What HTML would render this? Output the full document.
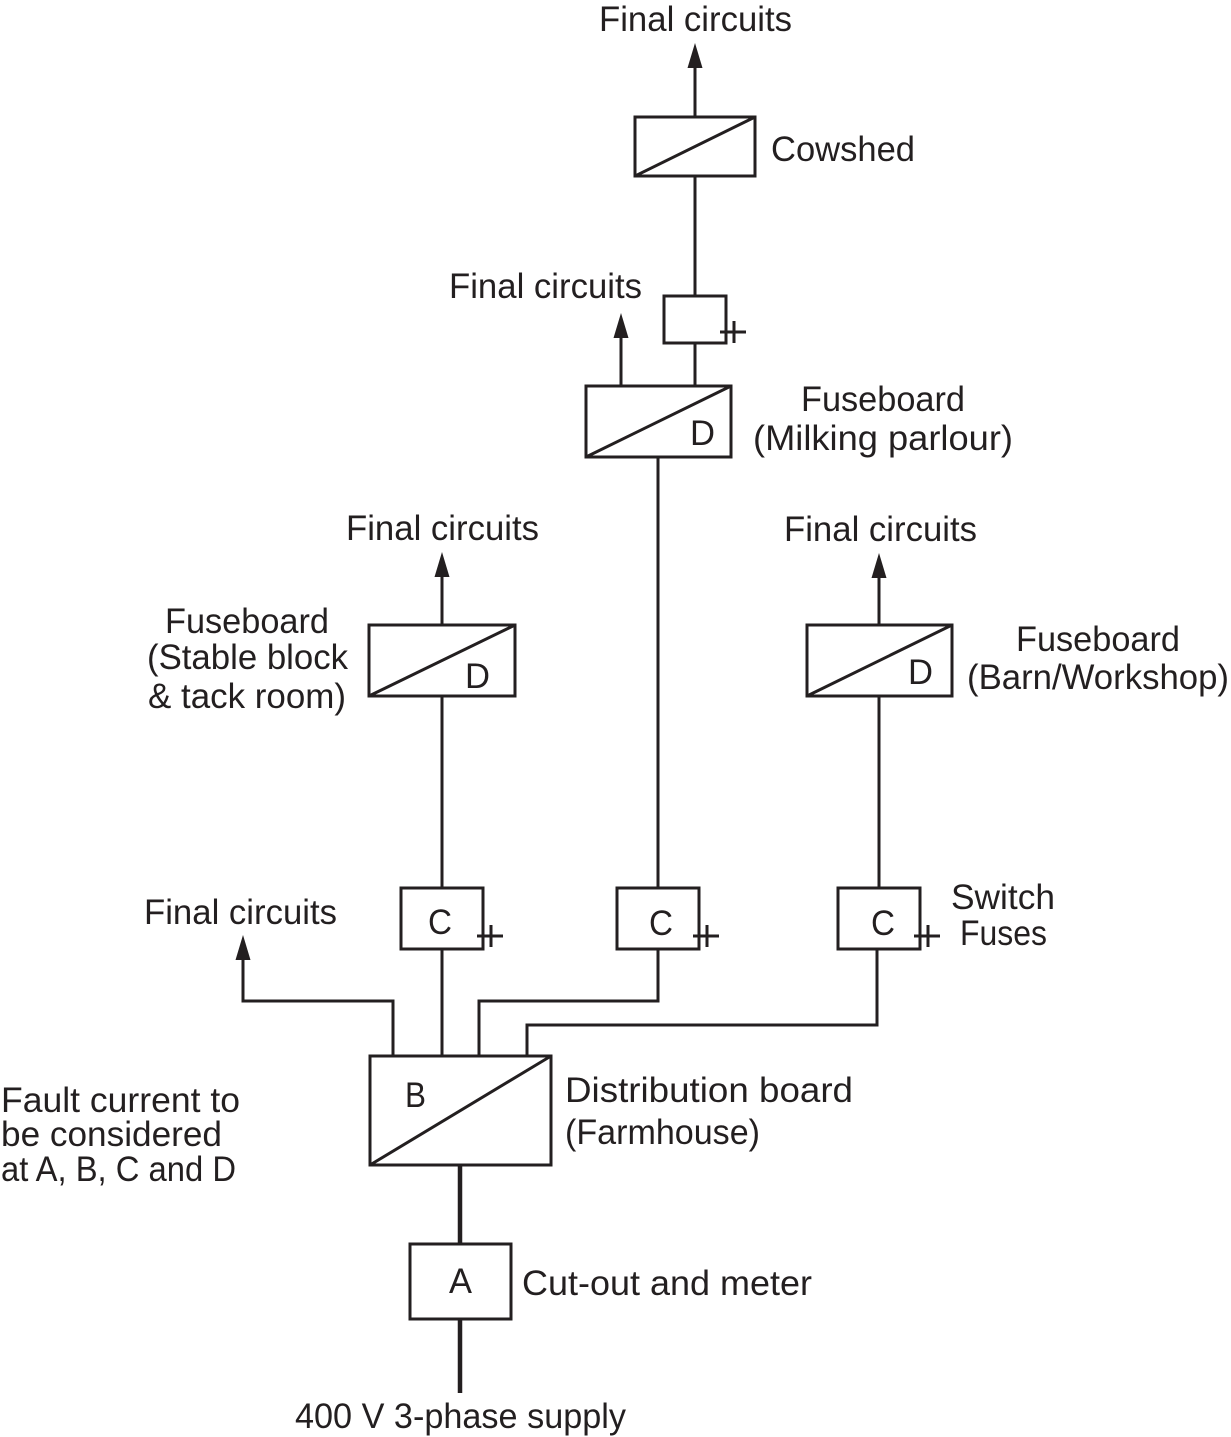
<!DOCTYPE html>
<html>
<head>
<meta charset="utf-8">
<style>
html,body{margin:0;padding:0;background:#fff;}
svg{display:block;}
text{font-family:"Liberation Sans",sans-serif;font-size:35px;fill:#231f20;}
</style>
</head>
<body>
<svg width="1231" height="1437" viewBox="0 0 1231 1437" xmlns="http://www.w3.org/2000/svg">
<g fill="none" stroke="#231f20" stroke-width="3">
<!-- Cowshed -->
<rect x="635" y="117" width="120" height="59"/>
<line x1="635" y1="176" x2="755" y2="117"/>
<line x1="695" y1="60" x2="695" y2="117"/>
<line x1="695" y1="176" x2="695" y2="296"/>
<!-- small box -->
<rect x="664" y="296" width="62" height="47"/>
<line x1="695" y1="343" x2="695" y2="386"/>
<line x1="720" y1="332" x2="746" y2="332"/>
<line x1="734" y1="321" x2="734" y2="343"/>
<!-- Milking -->
<rect x="586" y="386" width="145" height="71"/>
<line x1="586" y1="457" x2="731" y2="386"/>
<line x1="621" y1="330" x2="621" y2="386"/>
<line x1="658" y1="457" x2="658" y2="888"/>
<!-- Stable -->
<rect x="369" y="625" width="146" height="71"/>
<line x1="369" y1="696" x2="515" y2="625"/>
<line x1="442" y1="570" x2="442" y2="625"/>
<line x1="442" y1="696" x2="442" y2="888"/>
<!-- Barn -->
<rect x="807" y="625" width="145" height="71"/>
<line x1="807" y1="696" x2="952" y2="625"/>
<line x1="879" y1="570" x2="879" y2="625"/>
<line x1="879" y1="696" x2="879" y2="888"/>
<!-- C boxes -->
<rect x="401" y="888" width="82" height="61"/>
<line x1="477" y1="936" x2="503" y2="936"/>
<line x1="491" y1="925" x2="491" y2="947"/>
<rect x="617" y="888" width="82" height="61"/>
<line x1="693" y1="936" x2="719" y2="936"/>
<line x1="707" y1="925" x2="707" y2="947"/>
<rect x="838" y="888" width="82" height="61"/>
<line x1="914" y1="936" x2="940" y2="936"/>
<line x1="928" y1="925" x2="928" y2="947"/>
<!-- Connections to B -->
<polyline points="243,950 243,1001 393,1001 393,1056"/>
<line x1="442" y1="949" x2="442" y2="1056"/>
<polyline points="658,949 658,1001 479,1001 479,1056"/>
<polyline points="877,949 877,1025 527,1025 527,1056"/>
<!-- B -->
<rect x="370" y="1056" width="181" height="109"/>
<line x1="370" y1="1165" x2="551" y2="1056"/>
<!-- A -->
<rect x="410" y="1244" width="101" height="75"/>
<line x1="460" y1="1165" x2="460" y2="1244" stroke-width="4.5"/>
<line x1="460" y1="1319" x2="460" y2="1393" stroke-width="4.5"/>
</g>
<g fill="#231f20">
<polygon points="695,43 687.5,68 702.5,68"/>
<polygon points="621,313 613.5,338 628.5,338"/>
<polygon points="442,552 434.5,577 449.5,577"/>
<polygon points="879,553 871.5,578 886.5,578"/>
<polygon points="243,935 235.5,960 250.5,960"/>
</g>
<text x="599" y="31" textLength="193" lengthAdjust="spacingAndGlyphs">Final circuits</text>
<text x="771" y="161" textLength="144" lengthAdjust="spacingAndGlyphs">Cowshed</text>
<text x="449" y="298" textLength="193" lengthAdjust="spacingAndGlyphs">Final circuits</text>
<text x="801" y="411" textLength="164" lengthAdjust="spacingAndGlyphs">Fuseboard</text>
<text x="753" y="450" textLength="260" lengthAdjust="spacingAndGlyphs">(Milking parlour)</text>
<text x="690" y="445" textLength="25" lengthAdjust="spacingAndGlyphs">D</text>
<text x="346" y="540" textLength="193" lengthAdjust="spacingAndGlyphs">Final circuits</text>
<text x="784" y="541" textLength="193" lengthAdjust="spacingAndGlyphs">Final circuits</text>
<text x="165" y="633" textLength="164" lengthAdjust="spacingAndGlyphs">Fuseboard</text>
<text x="147" y="669" textLength="201" lengthAdjust="spacingAndGlyphs">(Stable block</text>
<text x="148" y="708" textLength="198" lengthAdjust="spacingAndGlyphs">&amp; tack room)</text>
<text x="465" y="688" textLength="25" lengthAdjust="spacingAndGlyphs">D</text>
<text x="908" y="684" textLength="25" lengthAdjust="spacingAndGlyphs">D</text>
<text x="1016" y="651" textLength="164" lengthAdjust="spacingAndGlyphs">Fuseboard</text>
<text x="967" y="689" textLength="262" lengthAdjust="spacingAndGlyphs">(Barn/Workshop)</text>
<text x="144" y="924" textLength="193" lengthAdjust="spacingAndGlyphs">Final circuits</text>
<text x="428" y="934" textLength="24" lengthAdjust="spacingAndGlyphs">C</text>
<text x="649" y="935" textLength="24" lengthAdjust="spacingAndGlyphs">C</text>
<text x="871" y="935" textLength="24" lengthAdjust="spacingAndGlyphs">C</text>
<text x="951" y="909" textLength="104" lengthAdjust="spacingAndGlyphs">Switch</text>
<text x="960" y="945" textLength="87" lengthAdjust="spacingAndGlyphs">Fuses</text>
<text x="405" y="1107" textLength="21" lengthAdjust="spacingAndGlyphs">B</text>
<text x="565" y="1102" textLength="288" lengthAdjust="spacingAndGlyphs">Distribution board</text>
<text x="565" y="1144" textLength="195" lengthAdjust="spacingAndGlyphs">(Farmhouse)</text>
<text x="1" y="1112" textLength="239" lengthAdjust="spacingAndGlyphs">Fault current to</text>
<text x="1" y="1146" textLength="221" lengthAdjust="spacingAndGlyphs">be considered</text>
<text x="1" y="1181" textLength="235" lengthAdjust="spacingAndGlyphs">at A, B, C and D</text>
<text x="449" y="1293" textLength="23" lengthAdjust="spacingAndGlyphs">A</text>
<text x="522" y="1295" textLength="290" lengthAdjust="spacingAndGlyphs">Cut-out and meter</text>
<text x="295" y="1428" textLength="331" lengthAdjust="spacingAndGlyphs">400 V 3-phase supply</text>
</svg>
</body>
</html>
